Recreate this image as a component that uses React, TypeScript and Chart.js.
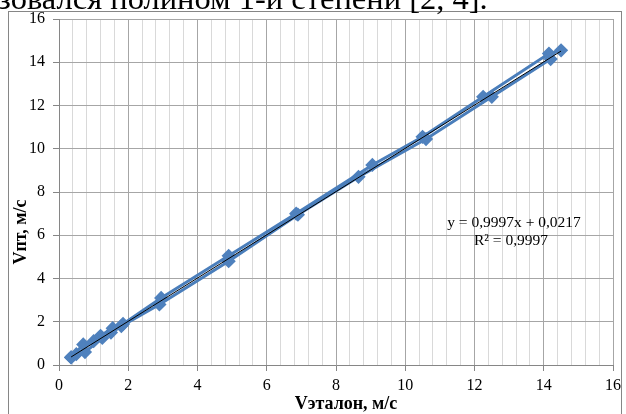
import React, { useEffect, useRef } from "react";
import { Chart, registerables } from "chart.js";

Chart.register(...registerables);

// Series 1 (measurements)
const s1X = [0.35, 0.7, 1.0, 1.2, 1.55, 1.85, 2.95, 4.9, 6.85, 9.05, 10.5, 12.25, 14.15, 14.5];
const s1Y = [0.35, 0.95, 1.1, 1.35, 1.7, 1.9, 3.1, 5.05, 7.0, 9.25, 10.55, 12.4, 14.4, 14.55];
// Series 2 (measurements)
const s2X = [0.35, 0.5, 0.75, 1.25, 1.5, 1.8, 2.9, 4.9, 6.9, 8.65, 10.6, 12.5, 14.2];
const s2Y = [0.35, 0.5, 0.6, 1.25, 1.5, 1.8, 2.8, 4.8, 6.95, 8.7, 10.45, 12.4, 14.15];
// Linear trend (from the printed equation)
const trendSlope = 0.9997;
const trendIntercept = 0.0217;
const trendX = [0.35, 14.5];

const xTitle = "Vэталон, м/с";
const yTitle = "Vпт, м/с";
const eqLine1 = "y = 0,9997x + 0,0217";
const eqLine2 = "R² = 0,9997";
const topText = "зовался полином 1-й степени [2, 4].";

const SERIF = '"Liberation Serif", "Times New Roman", "DejaVu Serif", serif';

export default function App() {
  const ref = useRef<HTMLCanvasElement | null>(null);

  useEffect(() => {
    if (!ref.current) return;
    const isMajor = (v: number) => Math.abs(v / 2 - Math.round(v / 2)) < 1e-6;

    const overlay = {
      id: "overlay",
      beforeDraw(chart: any) {
        const c = chart.ctx;
        c.save();
        c.strokeStyle = "#868686";
        c.lineWidth = 1;
        c.strokeRect(8.5, 11.5, 613, 430);
        c.restore();
      },
      afterDraw(chart: any) {
        const c = chart.ctx;
        c.save();
        c.fillStyle = "#000";
        c.textAlign = "center";
        c.textBaseline = "middle";
        c.font = `bold 18px ${SERIF}`;
        c.fillText(xTitle, 346, 404);
        c.save();
        c.translate(21, 232);
        c.rotate(-Math.PI / 2);
        c.fillText(yTitle, 0, 0);
        c.restore();
        c.font = `15.5px ${SERIF}`;
        c.fillText(eqLine1, 514, 223);
        c.fillText(eqLine2, 511, 241);
        c.restore();
      },
    };

    const chart = new Chart(ref.current, {
      type: "scatter",
      data: {
        datasets: [
          {
            label: "trend",
            data: trendX.map((x) => ({ x, y: trendSlope * x + trendIntercept })),
            showLine: true,
            borderColor: "#000000",
            borderWidth: 1,
            pointRadius: 0,
            order: 0,
          },
          {
            label: "s1",
            data: s1X.map((x, i) => ({ x, y: s1Y[i] })),
            showLine: true,
            borderColor: "#4A7EBB",
            borderWidth: 3,
            pointStyle: "rectRot",
            pointRadius: 5,
            pointBackgroundColor: "#4F81BD",
            pointBorderColor: "#4F81BD",
            order: 1,
          },
          {
            label: "s2",
            data: s2X.map((x, i) => ({ x, y: s2Y[i] })),
            showLine: true,
            borderColor: "#4A7EBB",
            borderWidth: 3,
            pointStyle: "rectRot",
            pointRadius: 5,
            pointBackgroundColor: "#4F81BD",
            pointBorderColor: "#4F81BD",
            order: 2,
          },
        ],
      },
      options: {
        animation: false,
        responsive: false,
        maintainAspectRatio: false,
        layout: { padding: { left: 0, right: 10, top: 19, bottom: 0 } },
        plugins: { legend: { display: false }, tooltip: { enabled: false } },
        scales: {
          x: {
            type: "linear",
            min: 0,
            max: 16,
            afterFit: (s: any) => {
              s.height = 49;
            },
            ticks: {
              stepSize: 0.4,
              autoSkip: false,
              maxRotation: 0,
              padding: 5,
              color: "#000",
              font: { family: SERIF, size: 16 },
              callback: (v: any) => (isMajor(Number(v)) ? String(Math.round(Number(v))) : ""),
            },
            grid: {
              color: (ctx: any) => (isMajor(ctx.tick?.value ?? 0) ? "#a6a6a6" : "#d9d9d9"),
              tickColor: (ctx: any) => (isMajor(ctx.tick?.value ?? 0) ? "#868686" : "rgba(0,0,0,0)"),
              tickLength: 6,
            },
            border: { color: "#868686" },
          },
          y: {
            type: "linear",
            min: 0,
            max: 16,
            afterFit: (s: any) => {
              s.width = 59;
            },
            ticks: {
              stepSize: 2,
              padding: 8,
              color: "#000",
              font: { family: SERIF, size: 16 },
            },
            grid: { color: "#a6a6a6", tickColor: "#868686", tickLength: 6 },
            border: { color: "#868686" },
          },
        },
      },
      plugins: [overlay],
    });
    return () => chart.destroy();
  }, []);

  return (
    <div style={{ position: "fixed", left: 0, top: 0, width: 626, height: 414, overflow: "hidden", background: "#fff" }}>
      <canvas ref={ref} width={626} height={414} style={{ position: "absolute", left: 0, top: 0 }} />
      <div
        style={{
          position: "absolute",
          left: -2,
          top: -18,
          fontFamily: SERIF,
          fontSize: 32.5,
          lineHeight: "32px",
          whiteSpace: "nowrap",
          color: "#000",
        }}
      >
        {topText}
      </div>
    </div>
  );
}
